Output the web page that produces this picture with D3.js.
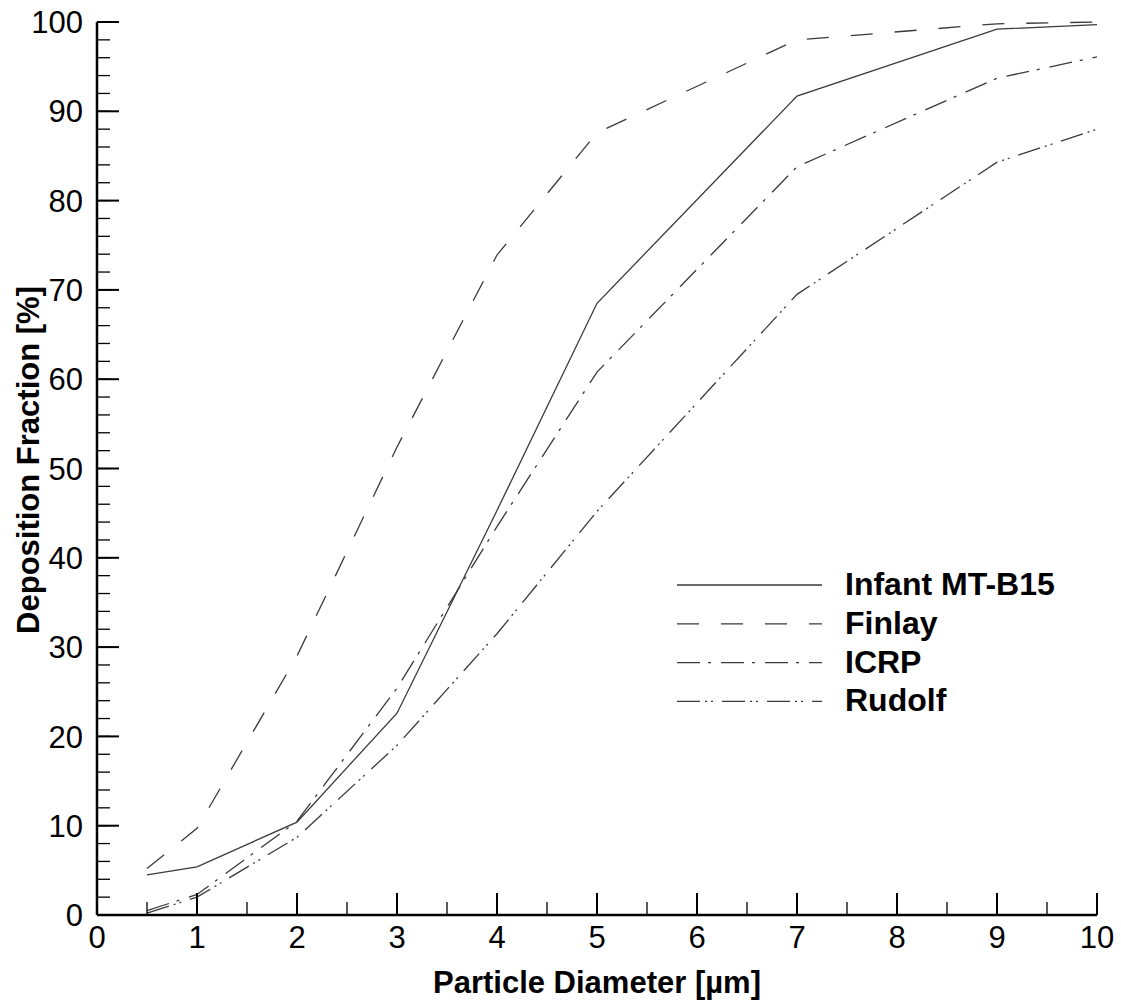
<!DOCTYPE html>
<html>
<head>
<meta charset="utf-8">
<script src="https://cdn.jsdelivr.net/npm/d3@7"></script>
<style>
  body { margin: 0; background: #fff; }
  text { font-family: "Liberation Sans", Arial, sans-serif; }
</style>
</head>
<body>
<svg id="chart" width="1121" height="1004"></svg>
<script>
// diameters (um) where the curves are sampled
var diameters = [0.5, 1, 2, 3, 4, 5, 7, 9, 10];

// deposition fraction (%) for each curve
var infant = [4.5, 5.4, 10.4, 22.6, 45.3, 68.5, 91.7, 99.2, 99.7];
var finlay = [5.2, 9.7, 29.0, 52.4, 73.9, 87.6, 98.0, 99.8, 100];
var icrp   = [0.5, 2.3, 10.5, 25.4, 43.5, 60.8, 83.8, 93.7, 96.1];
var rudolf = [0.2, 2.0, 8.7, 19.0, 31.5, 45.2, 69.5, 84.3, 88.0];

var seriesNames = ["Infant MT-B15", "Finlay", "ICRP", "Rudolf"];
var xTicks = [0, 1, 2, 3, 4, 5, 6, 7, 8, 9, 10];
var yTicks = [0, 10, 20, 30, 40, 50, 60, 70, 80, 90, 100];

var margin = {top: 22, right: 24, bottom: 89, left: 97},
    width = 1121 - margin.left - margin.right,
    height = 1004 - margin.top - margin.bottom;

var x = d3.scaleLinear().domain([0, 10]).range([0, width]);
var y = d3.scaleLinear().domain([0, 100]).range([height, 0]);

var svg = d3.select("#chart");
var g = svg.append("g")
    .attr("transform", "translate(" + margin.left + "," + margin.top + ")");

// dash patterns for each curve
var dashes = ["none", "22,22", "23,8,3,10", "23,5,2,4,2,9"];
var allSeries = [infant, finlay, icrp, rudolf];

var line = d3.line()
    .x(function(d) { return x(d[0]); })
    .y(function(d) { return y(d[1]); });

allSeries.forEach(function(vals, i) {
  g.append("path")
    .datum(diameters.map(function(dd, j) { return [dd, vals[j]]; }))
    .attr("d", line)
    .attr("fill", "none")
    .attr("stroke", "#3a3a3a")
    .attr("stroke-width", 1.3)
    .attr("stroke-dasharray", dashes[i]);
});

// minor ticks (inward)
var yMinor = d3.range(0, 101, 2);
var xMinor = d3.range(0, 10.01, 0.5);

var yAxis = g.append("g").attr("class", "y axis");
yAxis.selectAll(".minor").data(yMinor).enter().append("line")
    .attr("x1", 0).attr("x2", 13)
    .attr("y1", function(d) { return y(d); })
    .attr("y2", function(d) { return y(d); })
    .attr("stroke", "#000").attr("stroke-width", 1.3);
yAxis.selectAll(".major").data(yTicks).enter().append("line")
    .attr("x1", 0).attr("x2", 22)
    .attr("y1", function(d) { return y(d); })
    .attr("y2", function(d) { return y(d); })
    .attr("stroke", "#000").attr("stroke-width", 2);
yAxis.selectAll("text").data(yTicks).enter().append("text")
    .attr("x", -14)
    .attr("y", function(d) { return y(d); })
    .attr("dy", "0.36em")
    .attr("text-anchor", "end")
    .attr("font-size", 31)
    .text(function(d) { return d; });

var xAxis = g.append("g").attr("class", "x axis");
xAxis.selectAll(".minor").data(xMinor).enter().append("line")
    .attr("y1", height).attr("y2", height - 13)
    .attr("x1", function(d) { return x(d); })
    .attr("x2", function(d) { return x(d); })
    .attr("stroke", "#000").attr("stroke-width", 1.3);
xAxis.selectAll(".major").data(xTicks).enter().append("line")
    .attr("y1", height).attr("y2", height - 22)
    .attr("x1", function(d) { return x(d); })
    .attr("x2", function(d) { return x(d); })
    .attr("stroke", "#000").attr("stroke-width", 2);
xAxis.selectAll("text").data(xTicks).enter().append("text")
    .attr("x", function(d) { return x(d); })
    .attr("y", height + 33)
    .attr("text-anchor", "middle")
    .attr("font-size", 31)
    .text(function(d) { return d; });

// axis lines
g.append("line").attr("x1", 0).attr("x2", 0).attr("y1", 0).attr("y2", height)
    .attr("stroke", "#000").attr("stroke-width", 2.5);
g.append("line").attr("x1", 0).attr("x2", width).attr("y1", height).attr("y2", height)
    .attr("stroke", "#000").attr("stroke-width", 2.5);

// axis titles
g.append("text")
    .attr("x", width / 2)
    .attr("y", height + 78)
    .attr("text-anchor", "middle")
    .attr("font-size", 31)
    .attr("font-weight", "bold")
    .text("Particle Diameter [µm]");

g.append("text")
    .attr("transform", "rotate(-90)")
    .attr("x", -(460 - margin.top))
    .attr("y", -58)
    .attr("text-anchor", "middle")
    .attr("font-size", 31)
    .attr("font-weight", "bold")
    .text("Deposition Fraction [%]");

// legend
var legend = svg.append("g").attr("transform", "translate(677,585)");
seriesNames.forEach(function(name, i) {
  var row = legend.append("g").attr("transform", "translate(0," + (i * 38.8) + ")");
  row.append("line")
    .attr("x1", 0).attr("x2", 145).attr("y1", 0).attr("y2", 0)
    .attr("stroke", "#3a3a3a").attr("stroke-width", 1.3)
    .attr("stroke-dasharray", dashes[i]);
  row.append("text")
    .attr("x", 168)
    .attr("y", 10)
    .attr("font-size", 32)
    .attr("font-weight", "bold")
    .text(name);
});
</script>
</body>
</html>
